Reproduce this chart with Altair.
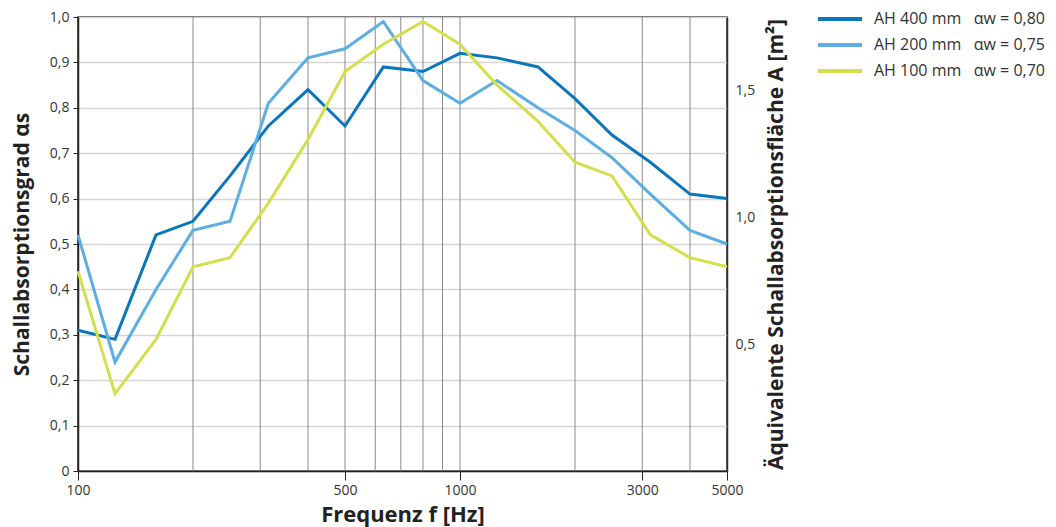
import altair as alt
import pandas as pd

# ---- data -------------------------------------------------------------
freqs = [100, 125, 160, 200, 250, 315, 400, 500, 630, 800, 1000, 1250, 1600, 2000, 2500, 3150, 4000, 5000]
ah400 = [0.31, 0.29, 0.52, 0.55, 0.65, 0.76, 0.84, 0.76, 0.89, 0.88, 0.92, 0.91, 0.89, 0.82, 0.74, 0.68, 0.61, 0.60]
ah200 = [0.52, 0.24, 0.40, 0.53, 0.55, 0.81, 0.91, 0.93, 0.99, 0.86, 0.81, 0.86, 0.80, 0.75, 0.69, 0.61, 0.53, 0.50]
ah100 = [0.44, 0.17, 0.29, 0.45, 0.47, 0.59, 0.73, 0.88, 0.94, 0.99, 0.94, 0.85, 0.77, 0.68, 0.65, 0.52, 0.47, 0.45]
NB = "\u00a0"
series_names = [
    "AH 400 mm" + NB * 3 + "αw = 0,80",
    "AH 200 mm" + NB * 3 + "αw = 0,75",
    "AH 100 mm" + NB * 3 + "αw = 0,70",
]
series_colors = ["#0a77bd", "#5daee2", "#d3e04b"]

x_label_values = [100, 500, 1000, 3000, 5000]
x_grid_values = [200, 300, 400, 500, 600, 700, 800, 900, 1000, 2000, 3000, 4000]
y_values = [0, 0.1, 0.2, 0.3, 0.4, 0.5, 0.6, 0.7, 0.8, 0.9, 1.0]
area_per_alpha = 1.79          # right axis: A [m²] = alpha * area
right_ticks = [0.5, 1.0, 1.5]

rows = []
for name, vals in zip(series_names, [ah400, ah200, ah100]):
    for f, v in zip(freqs, vals):
        rows.append({"f": f, "alpha": v, "series": name})
df = pd.DataFrame(rows)
grid_df = pd.DataFrame({"f": x_grid_values})

FONT = "Open Sans"

xscale = alt.Scale(type="log", domain=[100, 5000], nice=False)
xaxis = alt.Axis(
    title="Frequenz f [Hz]",
    titleFontSize=22,
    values=x_label_values,
    labelExpr="format(datum.value, 'd')",
    grid=False,
    tickSize=9,
    tickColor="#222",
    domainColor="#222",
    labelPadding=3,
    titlePadding=7,
    labelFlush=False,
)
xenc = alt.X("f:Q", scale=xscale, axis=xaxis)

grid = alt.Chart(grid_df).mark_rule(color="#8a8a8a", strokeWidth=1).encode(x=xenc)

lines = alt.Chart(df).mark_line(strokeWidth=3).encode(
    x=xenc,
    y=alt.Y(
        "alpha:Q",
        scale=alt.Scale(domain=[0, 1], nice=False),
        axis=alt.Axis(
            title="Schallabsorptionsgrad αs",
            values=y_values,
            labelExpr="datum.value == 0 ? '0' : replace(format(datum.value, '.1f'), '.', ',')",
            grid=True,
            gridColor="#d6d6d6",
            gridWidth=1.5,
            tickSize=5,
            tickColor="#222",
            domainColor="#222",
            labelPadding=4,
            titlePadding=17,
        ),
    ),
    color=alt.Color(
        "series:N",
        sort=series_names,
        scale=alt.Scale(domain=series_names, range=series_colors),
        legend=alt.Legend(
            title=None,
            orient="none",
            legendX=754,
            legendY=-6,
            symbolType="M-3.667,0H3.667",
            symbolSize=144,
            symbolStrokeWidth=4,
            labelFontSize=16,
            labelFont=FONT,
            labelColor="#333",
            labelOffset=26,
            rowPadding=10,
            labelLimit=400,
        ),
    ),
    order=alt.Order("f:Q"),
)

right = alt.Chart(df).mark_line(opacity=0).encode(
    x=xenc,
    y=alt.Y(
        "alpha:Q",
        scale=alt.Scale(domain=[0, 1], nice=False),
        axis=alt.Axis(
            orient="right",
            title="Äquivalente Schallabsorptionsfläche A [m²]",
            titleAngle=270,
            values=[t / area_per_alpha for t in right_ticks],
            labelExpr="replace(format(datum.value * %s, '.1f'), '.', ',')" % area_per_alpha,
            grid=False,
            ticks=False,
            domainColor="#3a2a38",
            labelPadding=8,
            titlePadding=32,
        ),
    ),
)

chart = (
    alt.layer(grid, lines, right)
    .resolve_scale(y="independent")
    .properties(
        width=649,
        height=454,
        autosize=alt.AutoSizeParams(type="none"),
        padding={"left": 70, "top": 9, "right": 321, "bottom": 56},
    )
    .configure_view(stroke="#2a2a2a", strokeWidth=1.5)
    .configure_axis(
        labelFont=FONT,
        labelFontSize=14,
        labelColor="#333",
        titleFont=FONT,
        titleFontSize=21,
        titleFontWeight="bold",
        titleColor="#222",
        domainWidth=1.5,
    )
)

chart.save("out.html", embed_options={"renderer": "svg", "actions": False})
